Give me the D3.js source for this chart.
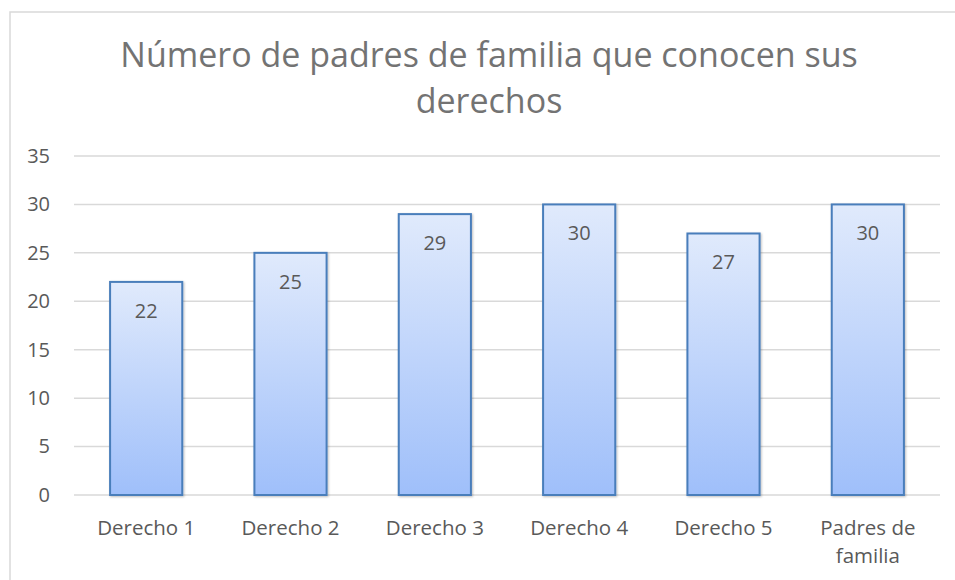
<!DOCTYPE html>
<html>
<head>
<meta charset="utf-8">
<script src="https://cdn.jsdelivr.net/npm/d3@7"></script>
<style>
  body { margin: 0; background: #fff; overflow: hidden; }
  svg { display: block; font-family: "Open Sans", "Noto Sans", sans-serif; }
</style>
</head>
<body>
<svg width="955" height="580" viewBox="0 0 955 580"></svg>
<script>
var categories = ["Derecho 1", "Derecho 2", "Derecho 3", "Derecho 4", "Derecho 5", "Padres de familia"];
var values = [22, 25, 29, 30, 27, 30];
var yTicks = [0, 5, 10, 15, 20, 25, 30, 35];
var title = ["Número de padres de familia que conocen sus", "derechos"];

var svg = d3.select("svg");
var margin = { top: 156, left: 74 };
var innerWidth = 940 - margin.left;
var innerHeight = 495 - margin.top;

// chart frame: only the top and left edges fall inside the picture
svg.append("path")
    .attr("d", "M10,580V12H955")
    .attr("fill", "none")
    .attr("stroke", "#d9d9d9")
    .attr("stroke-width", 1.5);

var defs = svg.append("defs");
var grad = defs.append("linearGradient")
    .attr("id", "barGrad")
    .attr("x1", 0).attr("y1", 0).attr("x2", 0).attr("y2", 1);
grad.append("stop").attr("offset", "0%").attr("stop-color", "#e0eafc");
grad.append("stop").attr("offset", "100%").attr("stop-color", "#9fbffa");

var shadow = defs.append("filter").attr("id", "shadow")
    .attr("x", "-20%").attr("y", "-20%").attr("width", "140%").attr("height", "140%");
shadow.append("feDropShadow")
    .attr("dx", 1).attr("dy", 1).attr("stdDeviation", 1.2)
    .attr("flood-color", "#000").attr("flood-opacity", 0.25);

// title
svg.append("text")
    .attr("text-anchor", "middle")
    .attr("fill", "#737373")
    .attr("font-size", "34px")
    .selectAll("tspan")
    .data(title)
    .enter()
    .append("tspan")
    .attr("x", 489)
    .attr("y", (d, i) => 67 + i * 46)
    .text(d => d);

var group = svg.append("g")
    .attr("transform", "translate(" + margin.left + "," + margin.top + ")");

var x = d3.scaleBand()
    .domain(categories)
    .range([0, innerWidth])
    .paddingInner(0.5)
    .paddingOuter(0.25);

var y = d3.scaleLinear()
    .domain([0, 35])
    .range([innerHeight, 0]);

// gridlines
group.selectAll("line.grid")
    .data(yTicks)
    .enter()
    .append("line")
    .attr("class", "grid")
    .attr("x1", 0).attr("x2", innerWidth)
    .attr("y1", d => y(d)).attr("y2", d => y(d))
    .attr("stroke", "#d9d9d9")
    .attr("stroke-width", 1.5);

// y axis labels
var yAxis = group.append("g")
    .call(d3.axisLeft(y).tickValues(yTicks).tickSize(0).tickPadding(24));
yAxis.select(".domain").remove();
yAxis.attr("font-size", 20).attr("font-family", null);
yAxis.selectAll("text")
    .attr("fill", "#595959");

// x axis labels
var xAxis = group.append("g")
    .attr("transform", "translate(0," + innerHeight + ")")
    .call(d3.axisBottom(x).tickSize(0).tickPadding(0));
xAxis.select(".domain").remove();
xAxis.attr("font-size", 20.5).attr("font-family", null);
xAxis.selectAll("text")
    .attr("fill", "#595959")
    .attr("dy", null)
    .attr("y", 40)
    .each(function(d) {
        var t = d3.select(this);
        if (d === "Padres de familia") {
            t.text(null);
            t.append("tspan").attr("x", 0).attr("y", 40).text("Padres de");
            t.append("tspan").attr("x", 0).attr("y", 68).text("familia");
        }
    });

// bars
group.selectAll("rect.bar")
    .data(values)
    .enter()
    .append("rect")
    .attr("class", "bar")
    .attr("x", (d, i) => x(categories[i]))
    .attr("y", d => y(d))
    .attr("width", x.bandwidth())
    .attr("height", d => innerHeight - y(d))
    .attr("fill", "url(#barGrad)")
    .attr("stroke", "#4a7ebb")
    .attr("stroke-width", 2)
    .attr("filter", "url(#shadow)");

// value labels
group.selectAll("text.value")
    .data(values)
    .enter()
    .append("text")
    .attr("class", "value")
    .attr("x", (d, i) => x(categories[i]) + x.bandwidth() / 2)
    .attr("y", d => y(d) + 36)
    .attr("text-anchor", "middle")
    .attr("font-size", "20px")
    .attr("fill", "#595959")
    .text(d => d);
</script>
</body>
</html>
